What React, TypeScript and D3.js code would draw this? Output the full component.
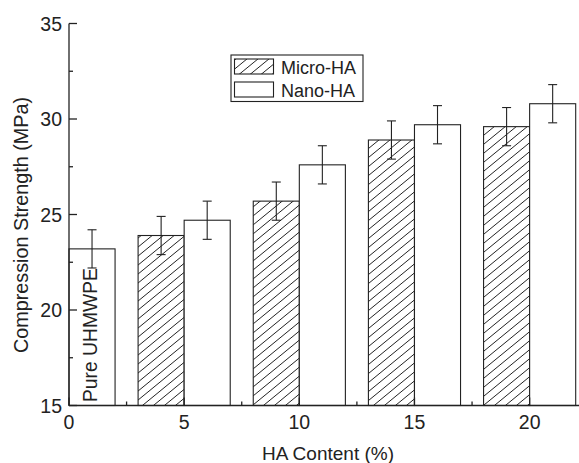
import React, { useRef, useEffect } from "react";
import * as d3 from "d3";

const categories = [5, 10, 15, 20];
const microValues = [23.9, 25.7, 28.9, 29.6];
const nanoValues = [24.7, 27.6, 29.7, 30.8];
const errors = [1, 1, 1, 1];
const pureValue = 23.2;
const pureError = 1;
const xTicks = [0, 5, 10, 15, 20];
const yTicks = [15, 20, 25, 30, 35];

const W = 579;
const H = 463;
const FONT = "'Liberation Sans', Arial, sans-serif";

export default function App() {
  const svgRef = useRef<SVGSVGElement>(null);

  useEffect(() => {
    const svg = d3.select(svgRef.current);
    svg.selectAll("*").remove();

    const x = d3.scaleLinear().domain([0, 22.1]).range([69, 578]);
    const y = d3.scaleLinear().domain([15, 35]).range([405.5, 23.5]);
    const ink = "#222";

    // diagonal hatch for Micro-HA
    const defs = svg.append("defs");
    const pat = defs
      .append("pattern")
      .attr("id", "hatch")
      .attr("patternUnits", "userSpaceOnUse")
      .attr("width", 11)
      .attr("height", 9);
    pat.append("rect").attr("width", 11).attr("height", 9).attr("fill", "white");
    pat
      .append("path")
      .attr("d", "M-11,9 L11,-9 M0,9 L11,0 M0,18 L22,0")
      .attr("stroke", ink)
      .attr("stroke-width", 1);

    const bars = [
      { x0: 0, x1: 2, v: pureValue, e: pureError, fill: "white" },
      ...categories.map((c, i) => ({ x0: c - 2, x1: c, v: microValues[i], e: errors[i], fill: "url(#hatch)" })),
      ...categories.map((c, i) => ({ x0: c, x1: c + 2, v: nanoValues[i], e: errors[i], fill: "white" })),
    ];

    svg
      .selectAll(".bar")
      .data(bars)
      .join("rect")
      .attr("class", "bar")
      .attr("x", (d) => x(d.x0))
      .attr("width", (d) => x(d.x1) - x(d.x0))
      .attr("y", (d) => y(d.v))
      .attr("height", (d) => y(15) - y(d.v))
      .attr("fill", (d) => d.fill)
      .attr("stroke", ink)
      .attr("stroke-width", 1.1);

    // error bars
    const eb = svg.append("g").attr("stroke", ink).attr("stroke-width", 1.1).attr("fill", "none");
    bars.forEach((d) => {
      const cx = x((d.x0 + d.x1) / 2);
      eb.append("line").attr("x1", cx).attr("x2", cx).attr("y1", y(d.v + d.e)).attr("y2", y(d.v - d.e));
      eb.append("line").attr("x1", cx - 4.5).attr("x2", cx + 4.5).attr("y1", y(d.v + d.e)).attr("y2", y(d.v + d.e));
      eb.append("line").attr("x1", cx - 4.5).attr("x2", cx + 4.5).attr("y1", y(d.v - d.e)).attr("y2", y(d.v - d.e));
    });

    // axes
    const ax = svg.append("g").attr("stroke", ink).attr("stroke-width", 1.3);
    ax.append("line").attr("x1", x(0)).attr("x2", x(0)).attr("y1", y(35)).attr("y2", y(15));
    ax.append("line").attr("x1", x(0)).attr("x2", 579).attr("y1", y(15)).attr("y2", y(15));

    yTicks.forEach((t) => {
      ax.append("line").attr("x1", x(0)).attr("x2", x(0) + 8).attr("y1", y(t)).attr("y2", y(t));
    });
    d3.range(17.5, 35, 5).forEach((t) => {
      ax.append("line").attr("x1", x(0)).attr("x2", x(0) + 4).attr("y1", y(t)).attr("y2", y(t));
    });
    xTicks.forEach((t) => {
      ax.append("line").attr("x1", x(t)).attr("x2", x(t)).attr("y1", y(15)).attr("y2", y(15) - 8);
    });
    d3.range(2.5, 22, 5).forEach((t) => {
      ax.append("line").attr("x1", x(t)).attr("x2", x(t)).attr("y1", y(15)).attr("y2", y(15) - 4);
    });

    const txt = svg.append("g").attr("font-family", FONT).attr("fill", ink);
    yTicks.forEach((t) => {
      txt
        .append("text")
        .attr("x", 62)
        .attr("y", y(t) + 7)
        .attr("text-anchor", "end")
        .attr("font-size", 19.5)
        .text(t);
    });
    xTicks.forEach((t) => {
      txt
        .append("text")
        .attr("x", x(t))
        .attr("y", 429)
        .attr("text-anchor", "middle")
        .attr("font-size", 19.5)
        .text(t);
    });

    txt
      .append("text")
      .attr("x", 328)
      .attr("y", 459.5)
      .attr("text-anchor", "middle")
      .attr("font-size", 19)
      .text("HA Content (%)");
    txt
      .append("text")
      .attr("transform", `translate(27.5,225) rotate(-90)`)
      .attr("text-anchor", "middle")
      .attr("font-size", 19.8)
      .text("Compression Strength (MPa)");
    txt
      .append("text")
      .attr("transform", `translate(97,402) rotate(-90)`)
      .attr("font-size", 19.3)
      .text("Pure UHMWPE");

    // legend
    const lg = svg.append("g");
    lg.append("rect")
      .attr("x", 231)
      .attr("y", 55)
      .attr("width", 132)
      .attr("height", 46.5)
      .attr("fill", "white")
      .attr("stroke", ink)
      .attr("stroke-width", 1.1);
    const items = [
      { label: "Micro-HA", fill: "url(#hatch)" },
      { label: "Nano-HA", fill: "white" },
    ];
    items.forEach((it, i) => {
      lg.append("rect")
        .attr("x", 234.5)
        .attr("y", 59 + i * 23)
        .attr("width", 39)
        .attr("height", 15)
        .attr("fill", it.fill)
        .attr("stroke", ink)
        .attr("stroke-width", 1.1);
      lg.append("text")
        .attr("x", 281)
        .attr("y", 73.5 + i * 23)
        .attr("font-family", FONT)
        .attr("font-size", 18)
        .attr("fill", ink)
        .text(it.label);
    });
  }, []);

  return (
    <div style={{ position: "absolute", left: 0, top: 0 }}>
      <svg ref={svgRef} width={W} height={H} style={{ display: "block", background: "white" }}></svg>
    </div>
  );
}
